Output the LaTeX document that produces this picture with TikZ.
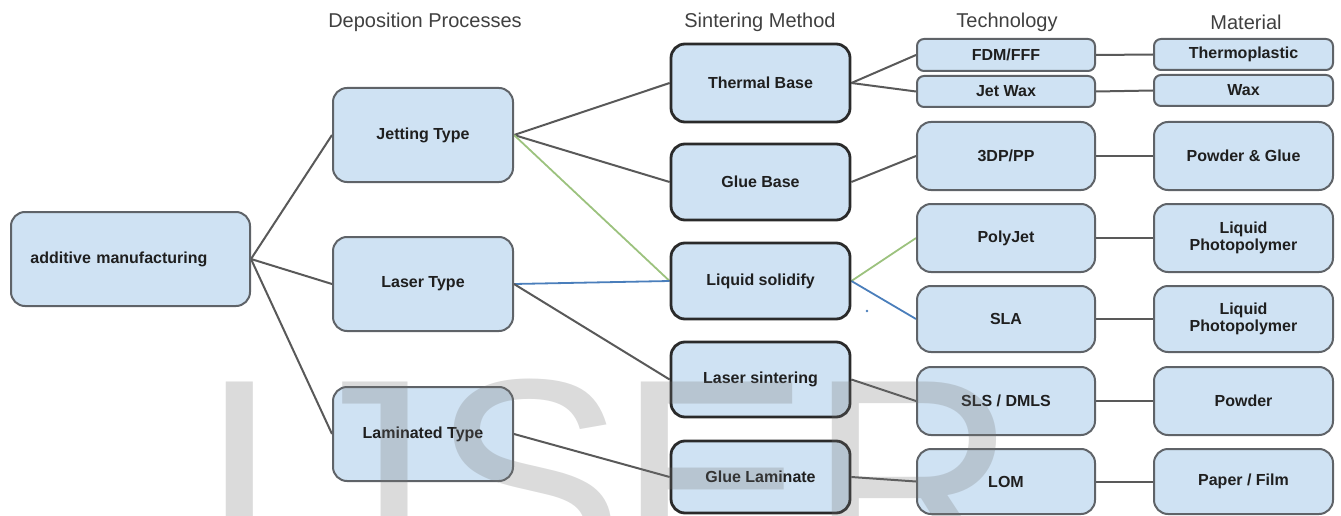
\documentclass[tikz,border=0pt]{standalone}
\usepackage{fontspec}
\setmainfont{Liberation Sans}
\usetikzlibrary{backgrounds}
\definecolor{boxfill}{HTML}{CFE2F3}
\definecolor{boxline}{HTML}{5F6368}
\definecolor{sintline}{HTML}{2A2A2A}
\definecolor{conn}{HTML}{595959}
\definecolor{greenconn}{HTML}{9CC27E}
\definecolor{blueconn}{HTML}{4A7EBB}
\definecolor{headtext}{HTML}{404040}
\definecolor{boxtext}{HTML}{1F1F1F}
\definecolor{wmark}{HTML}{737373}
\begin{document}
\begin{tikzpicture}[x=1pt,y=-1pt,
  box/.style={draw=boxline, line width=2pt, fill=boxfill, rounded corners=14pt,
    inner sep=0pt, align=center, font=\fontsize{16}{17}\selectfont\bfseries, text=boxtext},
  bigbox/.style={box, minimum width=180pt, minimum height=94pt},
  sbox/.style={box, draw=sintline, line width=2.8pt, minimum width=179pt},
  tbox/.style={box, minimum width=178pt},
  thinbox/.style={box, rounded corners=7pt},
  header/.style={font=\fontsize{20}{22}\selectfont, text=headtext, inner sep=0pt},
  link/.style={draw=conn, line width=2pt},
  greenlink/.style={draw=greenconn, line width=1.8pt},
  bluelink/.style={draw=blueconn, line width=1.8pt},
  wm/.style={anchor=base west, inner sep=0pt, font=\fontsize{290}{290}\selectfont,
    text=wmark, text opacity=0.26}
]
\useasboundingbox (0,0) rectangle (1341,516);

% headers
\node[header] (h1) at (425,22) {Deposition Processes};
\node[header] (h2) at (760,22) {Sintering Method};
\node[header] (h3) at (1007,22) {Technology};
\node[header] (h4) at (1246,22) {Material};

% root
\node[box, minimum width=239pt, minimum height=94pt, text width=200pt, align=left] (am) at (130.5,259) {additive manufacturing};

% deposition processes
\node[bigbox] (jet) at (423,135) {Jetting Type};
\node[bigbox] (las) at (423,284) {Laser Type};
\node[bigbox] (lam) at (423,434) {Laminated Type};

% sintering methods
\node[sbox, minimum height=78pt] (thermal) at (760.5,83) {Thermal Base};
\node[sbox, minimum height=76pt] (glue) at (760.5,182) {Glue Base};
\node[sbox, minimum height=76pt] (liquid) at (760.5,281) {Liquid solidify};
\node[sbox, minimum height=75pt] (lsint) at (760.5,379.5) {Laser sintering};
\node[sbox, minimum height=72pt] (glam) at (760.5,477) {Glue Laminate};

% technology
\node[tbox, thinbox, minimum height=32pt] (fdm) at (1006,55) {FDM/FFF};
\node[tbox, thinbox, minimum height=31pt] (jwax) at (1006,91.5) {Jet Wax};
\node[tbox, minimum height=68pt] (tdp) at (1006,156) {3DP/PP};
\node[tbox, minimum height=68pt] (poly) at (1006,238) {PolyJet};
\node[tbox, minimum height=66pt] (sla) at (1006,319) {SLA};
\node[tbox, minimum height=68pt] (sls) at (1006,401) {SLS / DMLS};
\node[tbox, minimum height=65pt] (lom) at (1006,481.5) {LOM};

% material
\node[tbox, thinbox, minimum width=179pt, minimum height=31pt] (thermo) at (1243.5,54.5) {Thermoplastic};
\node[tbox, thinbox, minimum width=179pt, minimum height=31pt] (wax) at (1243.5,90.5) {Wax};
\node[tbox, minimum width=179pt, minimum height=68pt] (pglue) at (1243.5,156) {Powder \& Glue};
\node[tbox, minimum width=179pt, minimum height=68pt] (lp1) at (1243.5,238) {Liquid\\Photopolymer};
\node[tbox, minimum width=179pt, minimum height=66pt] (lp2) at (1243.5,319) {Liquid\\Photopolymer};
\node[tbox, minimum width=179pt, minimum height=68pt] (powder) at (1243.5,401) {Powder};
\node[tbox, minimum width=179pt, minimum height=65pt] (paper) at (1243.5,481.5) {Paper / Film};

% connectors
\begin{pgfonlayer}{background}
\draw[link] (am.east) -- (jet.west);
\draw[link] (am.east) -- (las.west);
\draw[link] (am.east) -- (lam.west);
\draw[link] (jet.east) -- (thermal.west);
\draw[link] (jet.east) -- (glue.west);
\draw[greenlink] (jet.east) -- (liquid.west);
\draw[bluelink] (las.east) -- (liquid.west);
\draw[link] (las.east) -- (lsint.west);
\draw[link] (lam.east) -- (glam.west);
\draw[link] (thermal.east) -- (fdm.west);
\draw[link] (thermal.east) -- (jwax.west);
\draw[link] (glue.east) -- (tdp.west);
\draw[greenlink] (liquid.east) -- (poly.west);
\draw[bluelink] (liquid.east) -- (sla.west);
\draw[link] (lsint.east) -- (sls.west);
\draw[link] (glam.east) -- (lom.west);
\draw[link] (fdm.east) -- (thermo.west);
\draw[link] (jwax.east) -- (wax.west);
\draw[link] (tdp.east) -- (pglue.west);
\draw[link] (poly.east) -- (lp1.west);
\draw[link] (sla.east) -- (lp2.west);
\draw[link] (sls.east) -- (powder.west);
\draw[link] (lom.east) -- (paper.west);
\end{pgfonlayer}
\fill[blueconn] (867,311) circle (1.3pt);

% watermark
\node[wm] (w1) at (199,581) {I};
\node[wm] (w2) at (284,581) {J};
\node[wm] (w3) at (431,581) {S};
\node[wm] (w4) at (617,581) {E};
\node[wm] (w5) at (808,581) {R};
\end{tikzpicture}
\end{document}
